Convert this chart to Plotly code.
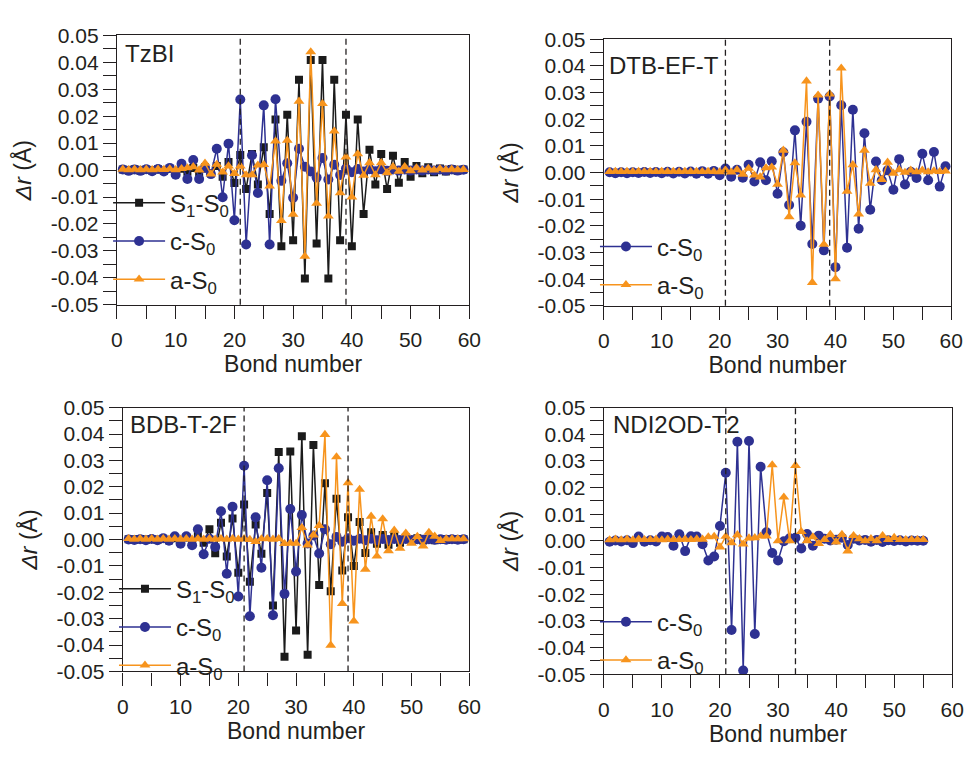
import plotly.graph_objects as go

# ---------------- data (bond-length change, Angstrom) ----------------
bonds_59 = list(range(1, 60))
bonds_55 = list(range(1, 56))

tzbi_s1 = [0.0002, -0.0002, 0.0003, -0.0003, 0.0002, -0.0002, 0.0003, -0.0003, 0.0004, -0.0004,
           0.0005, -0.0006, 0.0008, -0.0008, 0.0010, -0.0012, 0.0015, -0.0025, 0.0030, -0.0048,
           0.0056, -0.0070, 0.0060, -0.0054, 0.0085, -0.0163, 0.0188, -0.0283, 0.0205, -0.0260,
           0.0335, -0.0402, 0.0408, -0.0272, 0.0408, -0.0402, 0.0335, -0.0260, 0.0205, -0.0283,
           0.0188, -0.0163, 0.0075, -0.0054, 0.0060, -0.0070, 0.0053, -0.0047, 0.0030, -0.0025,
           0.0015, -0.0012, 0.0010, -0.0008, 0.0006, -0.0005, 0.0004, -0.0003, 0.0002]
tzbi_c = [0.0002, -0.0003, 0.0002, -0.0003, 0.0003, -0.0004, 0.0004, -0.0005, 0.0008, -0.0017,
          0.0023, -0.0033, 0.0037, -0.0033, 0.0008, -0.0015, 0.0079, -0.0101, 0.0098, -0.0186,
          0.0262, -0.0276, 0.0055, -0.0085, 0.0240, -0.0276, 0.0263, -0.0040, 0.0025, -0.0103,
          0.0079, 0.0012, -0.0005, -0.0028, 0.0045, -0.0035, 0.0020, -0.0018, 0.0006, -0.0008,
          0.0004, -0.0005, 0.0003, -0.0004, 0.0003, -0.0003, 0.0002, -0.0002, 0.0002, -0.0002,
          0.0002, -0.0002, 0.0002, -0.0002, 0.0002, -0.0002, 0.0002, -0.0002, 0.0001]
tzbi_a = [0.0003, 0.0001, 0.0003, 0.0001, 0.0003, 0.0001, 0.0003, 0.0002, 0.0004, 0.0001,
          0.0005, 0.0008, 0.0012, 0.0000, 0.0025, -0.0015, 0.0021, -0.0008, 0.0015, -0.0013,
          0.0015, -0.0018, -0.0018, 0.0018, 0.0020, -0.0060, 0.0107, -0.0188, 0.0110, -0.0164,
          0.0255, -0.0320, 0.0438, -0.0124, 0.0246, -0.0171, 0.0144, -0.0085, 0.0048, -0.0100,
          0.0060, -0.0020, 0.0027, -0.0018, 0.0027, -0.0010, 0.0012, -0.0005, 0.0012, -0.0003,
          0.0008, 0.0000, 0.0006, 0.0000, 0.0005, 0.0001, 0.0003, 0.0001, 0.0002]

dtb_c = [0.0001, -0.0003, 0.0001, -0.0003, 0.0001, -0.0002, 0.0002, -0.0002, 0.0002, -0.0003,
         0.0003, -0.0004, 0.0003, -0.0004, 0.0004, -0.0005, 0.0005, -0.0005, 0.0006, -0.0010,
         0.0015, -0.0016, 0.0010, -0.0020, 0.0029, -0.0034, 0.0038, -0.0029, 0.0042, -0.0080,
         0.0076, -0.0122, 0.0158, -0.0200, 0.0190, -0.0268, 0.0277, -0.0292, 0.0285, -0.0355,
         0.0252, -0.0282, 0.0235, -0.0211, 0.0147, -0.0140, 0.0041, -0.0029, 0.0008, -0.0065,
         0.0050, -0.0045, 0.0003, -0.0021, 0.0070, -0.0029, 0.0077, -0.0053, 0.0023]
dtb_a = [0.0003, 0.0004, 0.0003, 0.0004, 0.0003, 0.0004, 0.0003, 0.0004, 0.0003, 0.0004,
         0.0003, 0.0004, 0.0003, 0.0004, 0.0003, 0.0004, 0.0003, 0.0004, 0.0003, 0.0002,
         0.0009, 0.0001, 0.0010, -0.0007, 0.0015, -0.0010, -0.0017, 0.0017, 0.0020, -0.0045,
         0.0083, -0.0166, 0.0036, -0.0085, 0.0343, -0.0413, 0.0290, -0.0270, 0.0294, -0.0399,
         0.0391, -0.0071, 0.0029, -0.0156, 0.0083, -0.0041, 0.0010, -0.0027, 0.0038, -0.0003,
         0.0010, 0.0000, 0.0008, 0.0002, 0.0008, 0.0002, 0.0006, 0.0003, 0.0005]

bdb_s1 = [0.0001, -0.0001, 0.0002, -0.0001, 0.0002, -0.0002, 0.0003, -0.0003, 0.0005, -0.0005,
          0.0008, -0.0012, 0.0015, -0.0012, 0.0039, -0.0052, 0.0064, -0.0064, 0.0080, -0.0126,
          0.0133, -0.0160, 0.0057, -0.0054, 0.0176, -0.0250, 0.0332, -0.0444, 0.0334, -0.0345,
          0.0392, -0.0437, 0.0358, -0.0172, 0.0213, -0.0196, 0.0155, -0.0117, 0.0084, -0.0100,
          0.0066, -0.0051, 0.0028, -0.0016, 0.0017, -0.0020, 0.0012, -0.0012, 0.0008, -0.0006,
          0.0005, -0.0004, 0.0003, -0.0003, 0.0002, -0.0002, 0.0002, -0.0001, 0.0001]
bdb_c = [0.0000, -0.0002, 0.0001, -0.0003, 0.0002, -0.0003, 0.0005, -0.0005, 0.0012, -0.0016,
         0.0012, -0.0022, 0.0039, -0.0056, 0.0003, -0.0028, 0.0107, -0.0130, 0.0124, -0.0216,
         0.0280, -0.0291, 0.0084, -0.0107, 0.0225, -0.0287, 0.0270, -0.0206, 0.0116, -0.0121,
         0.0093, -0.0015, 0.0015, -0.0053, 0.0039, -0.0018, 0.0010, -0.0008, 0.0005, -0.0005,
         0.0003, -0.0003, 0.0003, -0.0003, 0.0002, -0.0002, 0.0002, -0.0002, 0.0002, -0.0002,
         0.0001, -0.0001, 0.0001, -0.0001, 0.0001, -0.0001, 0.0001, -0.0001, 0.0001]
bdb_a = [0.0003, 0.0001, 0.0003, 0.0001, 0.0003, 0.0001, 0.0003, 0.0001, 0.0003, 0.0001,
         0.0003, 0.0001, 0.0003, 0.0001, 0.0003, 0.0001, 0.0003, 0.0001, 0.0003, 0.0001,
         0.0003, 0.0000, -0.0008, 0.0002, 0.0003, 0.0001, 0.0003, -0.0016, -0.0014, -0.0015,
         0.0045, -0.0021, 0.0017, 0.0053, 0.0398, -0.0401, 0.0313, -0.0243, 0.0215, -0.0309,
         0.0190, -0.0113, 0.0088, -0.0063, 0.0078, -0.0043, 0.0035, -0.0034, 0.0024, -0.0015,
         0.0011, -0.0025, 0.0027, 0.0012, -0.0004, 0.0002, 0.0002, 0.0002, 0.0002]

ndi_c = [-0.0003, 0.0002, -0.0002, 0.0003, -0.0008, 0.0017, -0.0003, 0.0003, -0.0002, 0.0017,
         0.0015, -0.0018, 0.0025, -0.0038, 0.0018, 0.0017, -0.0012, -0.0073, -0.0058, 0.0056,
         0.0256, -0.0334, 0.0372, -0.0486, 0.0375, -0.0349, 0.0278, 0.0033, -0.0045, -0.0073,
         -0.0001, 0.0010, 0.0012, -0.0028, 0.0026, -0.0018, 0.0020, 0.0008, 0.0002, 0.0005,
         0.0012, -0.0015, 0.0008, 0.0002, 0.0004, -0.0003, 0.0004, -0.0004, 0.0003, 0.0000,
         0.0003, -0.0002, 0.0002, 0.0001, 0.0001]
ndi_a = [0.0004, 0.0006, 0.0004, 0.0006, 0.0004, 0.0006, 0.0005, 0.0005, 0.0006, 0.0004,
         0.0006, 0.0005, 0.0005, 0.0006, 0.0005, 0.0007, 0.0006, 0.0015, 0.0017, -0.0023,
         0.0017, -0.0007, 0.0023, -0.0012, 0.0011, 0.0012, 0.0018, 0.0018, 0.0285, 0.0000,
         0.0164, 0.0000, 0.0283, 0.0035, 0.0000, 0.0015, -0.0010, 0.0005, 0.0024, -0.0004,
         0.0024, -0.0038, 0.0020, 0.0008, 0.0000, 0.0008, 0.0000, 0.0020, 0.0005, 0.0013,
         0.0005, 0.0005, 0.0005, 0.0005, 0.0005]

panel_names = ["TzBI", "DTB-EF-T", "BDB-T-2F", "NDI2OD-T2"]
dashed_bonds = [[21, 39], [21, 39], [21, 39], [21, 33]]
series_names = ["S<sub>1</sub>-S<sub>0</sub>", "c-S<sub>0</sub>", "a-S<sub>0</sub>"]
x_ticks = [0, 10, 20, 30, 40, 50, 60]
y_ticks = [0.05, 0.04, 0.03, 0.02, 0.01, 0.0, -0.01, -0.02, -0.03, -0.04, -0.05]
y_tick_labels = ["0.05", "0.04", "0.03", "0.02", "0.01", "0.00",
                 "-0.01", "-0.02", "-0.03", "-0.04", "-0.05"]

panel_series = [
    (bonds_59, [tzbi_s1, tzbi_c, tzbi_a]),
    (bonds_59, [None, dtb_c, dtb_a]),
    (bonds_59, [bdb_s1, bdb_c, bdb_a]),
    (bonds_55, [None, ndi_c, ndi_a]),
]

# ---------------- style ----------------
W, H = 979, 759
FONT = "Arial, Liberation Sans, sans-serif"
TXT = "#231f20"
colors = ["#1b1b1b", "#2e3192", "#f7941d"]
symbols = ["square", "circle", "triangle-up"]
msizes = [8, 10, 9.5]

# panel boxes in pixels: left, top, right, bottom
boxes = [(113, 24, 472, 302), (609, 28, 963, 303),
         (119, 408, 472, 680), (609, 408, 964, 683)]
legend_pos = [(104, 174), (600, 219), (110, 572), (600, 606)]
# panel label offsets (px from panel left / top)
label_off = [(6, 3), (3, 11), (5, 1), (7, 1)]

fig = go.Figure()
layout = {}
for i, (bx, legpos) in enumerate(zip(boxes, legend_pos)):
    k = "" if i == 0 else str(i + 1)
    l, t, r, b = bx
    tick_common = dict(ticks="outside", ticklen=13, tickwidth=1.3, tickcolor=TXT)
    xa = dict(domain=[l / W, r / W], range=[0, 60], tickvals=x_ticks,
              **tick_common,
              minor=dict(dtick=5, tick0=0, **tick_common),
              showline=True, linecolor=TXT, linewidth=1.3, mirror=True,
              showgrid=False, zeroline=False, anchor="y" + k,
              ticklabelstandoff=3,
              tickfont=dict(size=21, color=TXT, family=FONT),
              title=dict(text="Bond number", font=dict(size=23, color=TXT, family=FONT), standoff=2))
    ya = dict(domain=[1 - b / H, 1 - t / H], range=[-0.05, 0.05], tickvals=y_ticks,
              ticktext=y_tick_labels,
              **tick_common,
              minor=dict(dtick=0.005, tick0=0, **tick_common),
              showline=True, linecolor=TXT, linewidth=1.3, mirror=True,
              showgrid=False, zeroline=False, anchor="x" + k,
              tickfont=dict(size=21, color=TXT, family=FONT),
              title=dict(text="<i>Δr</i> (Å)", font=dict(size=23, color=TXT, family=FONT), standoff=12))
    layout["xaxis" + k] = xa
    layout["yaxis" + k] = ya
    lk = "legend" + k
    layout[lk] = dict(x=legpos[0] / W, y=1 - legpos[1] / H, xanchor="left", yanchor="top",
                      bgcolor="rgba(0,0,0,0)", borderwidth=0, itemwidth=52,
                      tracegroupgap=4, font=dict(size=24, color=TXT, family=FONT),
                      itemclick=False)

    xs, ser = panel_series[i]
    for j, ys in enumerate(ser):
        if ys is None:
            continue
        fig.add_trace(go.Scatter(
            x=xs, y=ys, mode="lines+markers", name=series_names[j],
            line=dict(color=colors[j], width=1.5),
            marker=dict(symbol=symbols[j], size=msizes[j], color=colors[j]),
            xaxis="x" + k, yaxis="y" + k, legend=lk, legendgroup=f"g{i}{j}",
            showlegend=True))

    for xb in dashed_bonds[i]:
        fig.add_shape(type="line", xref="x" + k, yref="y" + k + " domain",
                      x0=xb, x1=xb, y0=0, y1=1,
                      line=dict(color=TXT, width=1.3, dash="6px,4px"))

    ox, oy = label_off[i]
    fig.add_annotation(text=panel_names[i], xref="x" + k + " domain", yref="y" + k + " domain",
                       x=ox / (r - l), y=1 - oy / (b - t), xanchor="left", yanchor="top",
                       showarrow=False, font=dict(size=24, color=TXT, family=FONT))

fig.update_layout(**layout)
fig.update_layout(width=W, height=H, margin=dict(l=0, r=0, t=0, b=0),
                  paper_bgcolor="white", plot_bgcolor="white",
                  font=dict(family=FONT, color=TXT))
fig.write_html("out.html")
